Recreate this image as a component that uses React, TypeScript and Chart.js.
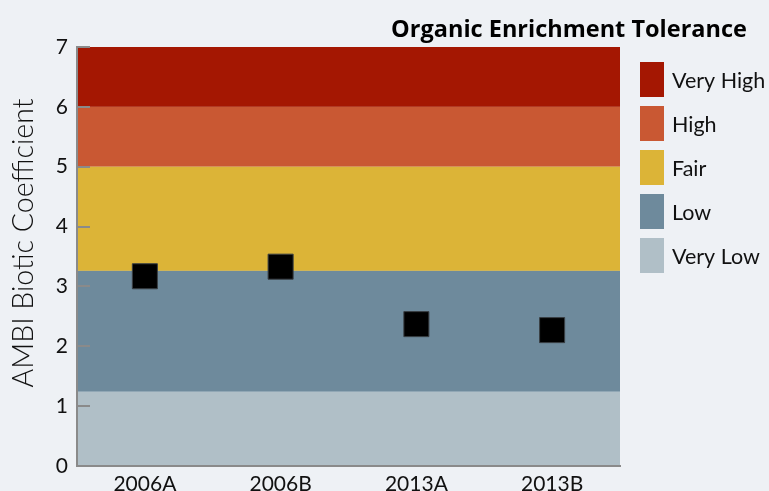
import React, { useEffect, useRef } from "react";
import { Chart, registerables } from "chart.js";

Chart.register(...registerables);

const categories = ["2006A", "2006B", "2013A", "2013B"];
const ambiValues = [3.17, 3.33, 2.37, 2.27];
const yTicks = [0, 1, 2, 3, 4, 5, 6, 7];

const bandLabels = ["Very High", "High", "Fair", "Low", "Very Low"];
const bandLows = [6, 5, 3.26, 1.24, 0];
const bandHighs = [7, 6, 5, 3.26, 1.24];
const bandColors = ["#A41702", "#C95833", "#DCB437", "#6E8A9C", "#B0BFC7"];

const titleText = "Organic Enrichment Tolerance";
const yTitleText = "AMBI Biotic Coefficient";

const BG = "#EEF1F5";
const AXIS = "#8A8A8A";
const FONT = "Lato";

const decorPlugin = {
  id: "decor",
  beforeDraw(chart: any) {
    const { ctx, chartArea, scales } = chart;
    ctx.save();
    ctx.fillStyle = BG;
    ctx.fillRect(0, 0, chart.width, chart.height);
    const y = scales.y;
    bandLabels.forEach((_, i) => {
      const top = y.getPixelForValue(bandHighs[i]);
      const bot = y.getPixelForValue(bandLows[i]);
      ctx.fillStyle = bandColors[i];
      ctx.fillRect(chartArea.left, top, chartArea.right - chartArea.left, bot - top);
    });
    ctx.restore();
  },
  afterDraw(chart: any) {
    const { ctx, chartArea, scales } = chart;
    const y = scales.y;
    ctx.save();
    // inner tick marks
    ctx.strokeStyle = AXIS;
    ctx.lineWidth = 2;
    yTicks.forEach((v) => {
      const py = Math.round(y.getPixelForValue(v));
      ctx.beginPath();
      ctx.moveTo(chartArea.left, py);
      ctx.lineTo(chartArea.left + 13, py);
      ctx.stroke();
    });
    // title
    ctx.fillStyle = "#000";
    ctx.font = `bold 23.5px "Open Sans"`;
    ctx.textAlign = "center";
    ctx.textBaseline = "alphabetic";
    ctx.fillText(titleText, 569, 37);
    // y axis title
    ctx.save();
    ctx.translate(33, 243);
    ctx.rotate(-Math.PI / 2);
    ctx.font = `300 28.5px ${FONT}`;
    ctx.fillStyle = "#111";
    ctx.textAlign = "center";
    ctx.fillText(yTitleText, 0, 0);
    ctx.restore();
    // legend
    ctx.font = `21.5px ${FONT}`;
    ctx.textAlign = "left";
    bandLabels.forEach((lab, i) => {
      const top = 62 + i * 44;
      ctx.fillStyle = bandColors[i];
      ctx.fillRect(640, top, 24, 35);
      ctx.fillStyle = "#111";
      ctx.fillText(lab, 672, top + 26);
    });
    ctx.restore();
  },
};

export default function App() {
  const ref = useRef<HTMLCanvasElement | null>(null);
  useEffect(() => {
    if (!ref.current) return;
    const chart = new Chart(ref.current, {
      type: "line",
      data: {
        labels: categories,
        datasets: [
          {
            data: ambiValues,
            showLine: false,
            pointStyle: "rect",
            pointRadius: 17.7,
            pointHoverRadius: 17.7,
            backgroundColor: "#000",
            borderColor: "#3a3f44",
            borderWidth: 1,
          },
        ],
      },
      options: {
        responsive: false,
        animation: false,
        devicePixelRatio: 1,
        layout: { padding: { top: 47, right: 149, left: 0, bottom: 0 } },
        plugins: { legend: { display: false }, tooltip: { enabled: false } },
        scales: {
          x: {
            type: "category",
            offset: true,
            grid: { display: false, drawTicks: false },
            border: { display: true, color: AXIS, width: 2 },
            ticks: { color: "#111", font: { family: FONT, size: 21 }, padding: 5.5 },
            afterFit(scale: any) {
              scale.height = 25;
            },
          },
          y: {
            min: 0,
            max: 7,
            grid: { display: false, drawTicks: false },
            border: { display: true, color: AXIS, width: 2 },
            ticks: {
              stepSize: 1,
              color: "#111",
              font: { family: FONT, size: 21 },
              padding: 9,
            },
            afterFit(scale: any) {
              scale.width = 77;
            },
          },
        },
      },
      plugins: [decorPlugin],
    } as any);
    return () => chart.destroy();
  }, []);
  return (
    <div style={{ position: "fixed", left: 0, top: 0, width: 769, height: 491, background: BG }}>
      <canvas ref={ref} width={769} height={491} style={{ display: "block" }} />
    </div>
  );
}
